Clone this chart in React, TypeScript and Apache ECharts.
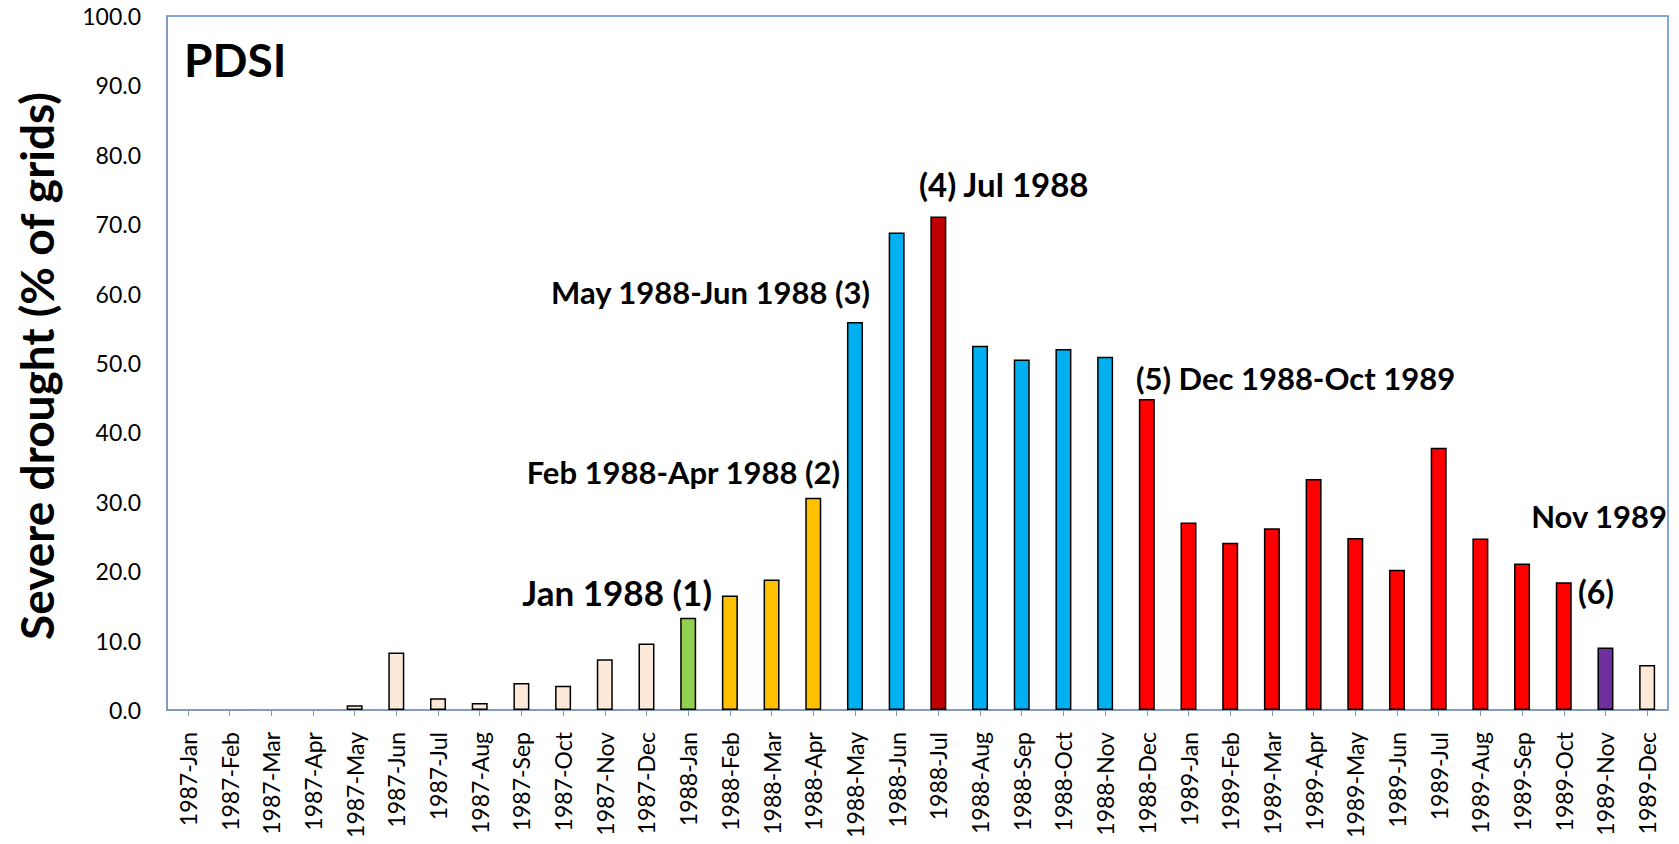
import React, { useEffect, useRef } from "react";
import * as echarts from "echarts";

const categories = [
  "1987-Jan", "1987-Feb", "1987-Mar", "1987-Apr", "1987-May", "1987-Jun",
  "1987-Jul", "1987-Aug", "1987-Sep", "1987-Oct", "1987-Nov", "1987-Dec",
  "1988-Jan", "1988-Feb", "1988-Mar", "1988-Apr", "1988-May", "1988-Jun",
  "1988-Jul", "1988-Aug", "1988-Sep", "1988-Oct", "1988-Nov", "1988-Dec",
  "1989-Jan", "1989-Feb", "1989-Mar", "1989-Apr", "1989-May", "1989-Jun",
  "1989-Jul", "1989-Aug", "1989-Sep", "1989-Oct", "1989-Nov", "1989-Dec",
];

const values = [
  0, 0, 0, 0, 0.7, 8.3, 1.7, 1.0, 3.9, 3.5, 7.3, 9.6,
  13.3, 16.5, 18.8, 30.6, 55.9, 68.8, 71.1, 52.5, 50.5, 52.0, 50.9, 44.8,
  27.0, 24.1, 26.2, 33.3, 24.8, 20.2, 37.8, 24.7, 21.1, 18.4, 9.0, 6.5,
];

// drought phase of each month: 0 none, 1..6 phases
const phases = [
  0, 0, 0, 0, 0, 0, 0, 0, 0, 0, 0, 0,
  1, 2, 2, 2, 3, 3, 4, 3, 3, 3, 3, 5,
  5, 5, 5, 5, 5, 5, 5, 5, 5, 5, 6, 0,
];

const phaseColors = ["#FDE9D9", "#92D050", "#FFC000", "#00B0F0", "#C00000", "#FF0000", "#7030A0"];

const annotations = [
  { text: "PDSI", x: 184, y: 59, align: "left", size: 46 },
  { text: "Jan 1988 (1)", x: 712, y: 592, align: "right", size: 35 },
  { text: "Feb 1988-Apr 1988 (2)", x: 840, y: 472, align: "right", size: 31 },
  { text: "May 1988-Jun 1988 (3)", x: 870, y: 292, align: "right", size: 31 },
  { text: "(4) Jul 1988", x: 919, y: 184, align: "left", size: 33 },
  { text: "(5) Dec 1988-Oct 1989", x: 1136, y: 378, align: "left", size: 31 },
  { text: "Nov 1989", x: 1667, y: 516, align: "right", size: 31 },
  { text: "(6)", x: 1578, y: 591, align: "left", size: 32 },
];

const yTitle = "Severe drought (% of grids)";
const FONT = "Lato, 'Open Sans', sans-serif";

export default function App() {
  const ref = useRef<HTMLDivElement>(null);
  useEffect(() => {
    if (!ref.current) return;
    const chart = echarts.init(ref.current, null, { renderer: "svg" });
    chart.setOption({
      animation: false,
      backgroundColor: "#ffffff",
      grid: {
        left: 167,
        right: 11,
        top: 16,
        bottom: 134,
        containLabel: false,
        outerBoundsMode: "none",
        show: true,
        borderColor: "#5B8BD0",
        borderWidth: 1.5,
        backgroundColor: "transparent",
      },
      xAxis: {
        type: "category",
        data: categories,
        axisLine: { show: true, lineStyle: { color: "#8497B0", width: 1.5 } },
        axisTick: { show: true, alignWithLabel: true, length: 6, lineStyle: { color: "#8497B0", width: 1 } },
        axisLabel: {
          rotate: 90,
          interval: 0,
          margin: 22,
          fontSize: 23,
          color: "#000000",
          fontFamily: FONT,
        },
        splitLine: { show: false },
      },
      yAxis: {
        type: "value",
        min: 0,
        max: 100,
        interval: 10,
        axisLine: { show: true, lineStyle: { color: "#8497B0", width: 1.5 } },
        axisTick: { show: false },
        splitLine: { show: false },
        axisLabel: {
          margin: 26,
          fontSize: 23,
          color: "#000000",
          fontFamily: FONT,
          formatter: (v: number) => v.toFixed(1),
        },
      },
      series: [
        {
          type: "bar",
          barWidth: 16,
          data: values.map((v, i) => ({
            value: v,
            itemStyle: {
              color: phaseColors[phases[i]],
              borderColor: "#000000",
              borderWidth: v > 0 ? 1.5 : 0,
            },
          })),
        },
      ],
      graphic: [
        {
          type: "text",
          x: 36,
          y: 366,
          rotation: Math.PI / 2,
          style: {
            text: yTitle,
            fontSize: 46,
            fontWeight: "bold",
            fontFamily: FONT,
            fill: "#000000",
            textAlign: "center",
            textVerticalAlign: "middle",
          },
        },
        ...annotations.map((a) => ({
          type: "text",
          x: a.x,
          y: a.y,
          style: {
            text: a.text,
            fontSize: a.size,
            fontWeight: "bold",
            fontFamily: FONT,
            fill: "#000000",
            textAlign: a.align,
            textVerticalAlign: "middle",
          },
        })),
      ],
    });
    return () => chart.dispose();
  }, []);
  return <div ref={ref} style={{ width: 1679, height: 844, position: "absolute", left: 0, top: 0 }} />;
}
